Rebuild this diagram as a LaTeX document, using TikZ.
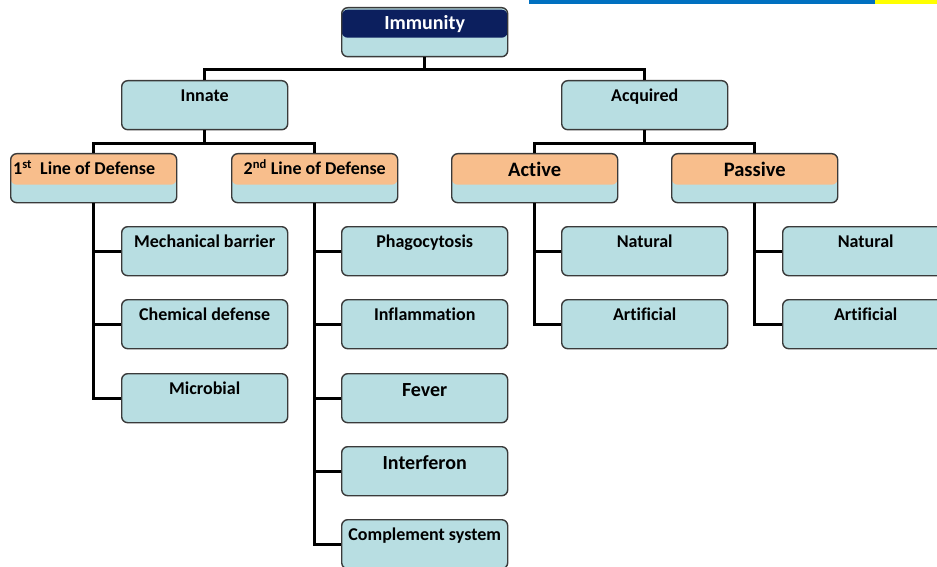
\documentclass[tikz,border=0pt]{standalone}
\usepackage{fontspec}
\setmainfont{Carlito}[Ligatures=NoCommon]
\definecolor{boxfill}{HTML}{B8DEE2}
\definecolor{bandor}{HTML}{F8BE8C}
\definecolor{navy}{HTML}{0C1F5E}
\definecolor{bord}{HTML}{3A3A3A}
\definecolor{topblue}{HTML}{0070C0}
\definecolor{topyellow}{HTML}{FFFF00}
\tikzset{
  box/.style={draw=bord, line width=1.4pt, fill=boxfill, rounded corners=6pt,
    minimum width=166pt, minimum height=49pt, inner sep=0pt, anchor=north west},
  orband/.style={path picture={\fill[bandor] (path picture bounding box.north west) rectangle ([yshift=-31pt]path picture bounding box.north east);}},
  navband/.style={path picture={\fill[navy] ([yshift=-2pt]path picture bounding box.north west) rectangle ([yshift=-30pt]path picture bounding box.north east);}},
  txt/.style={anchor=base, font=\fontsize{18}{21}\selectfont\bfseries, text=black, inner sep=0pt},
  bigtxt/.style={txt, font=\fontsize{20}{23}\selectfont\bfseries},
  midtxt/.style={txt, font=\fontsize{20.5}{23}\selectfont\bfseries},
  conn/.style={line width=3.2pt, black},
}
\begin{document}
\begin{tikzpicture}[x=1pt,y=-1pt]
\useasboundingbox (0,0) rectangle (937,567);
\clip (0,0) rectangle (937,567);
\fill[topblue] (529,0) rectangle (875,4);
\fill[topyellow] (875,0) rectangle (937,4);

% boxes
\node[box, navband] (imm) at (341,7) {};
\node[box] (inn) at (121,80) {};
\node[box] (acq) at (561,80) {};
\node[box, orband] (l1) at (10,153) {};
\node[box, orband] (l2) at (231,153) {};
\node[box, orband] (act) at (451,153) {};
\node[box, orband] (pas) at (671,153) {};
\node[box] (mb) at (121,226) {};
\node[box] (cd) at (121,299) {};
\node[box] (mi) at (121,373) {};
\node[box] (ph) at (341,226) {};
\node[box] (inf) at (341,299) {};
\node[box] (fev) at (341,373) {};
\node[box] (itf) at (341,446) {};
\node[box] (cs) at (341,519) {};
\node[box] (an) at (561,226) {};
\node[box] (aa) at (561,299) {};
\node[box] (pn) at (782,226) {};
\node[box] (pa) at (782,299) {};

% texts
\node[bigtxt, text=white] (timm) at ([yshift=-23pt]imm.north) {Immunity};
\node[txt] (tinn) at ([yshift=-21.5pt]inn.north) {Innate};
\node[txt] (tacq) at ([yshift=-21.5pt]acq.north) {Acquired};
\node[txt, anchor=base west] (tl1) at ([xshift=3pt,yshift=-21.5pt]l1.north west) {1\textsuperscript{st}\ \ Line of Defense};
\node[txt] (tl2) at ([yshift=-21.5pt]l2.north) {2\textsuperscript{nd} Line of Defense};
\node[midtxt] (tact) at ([yshift=-23pt]act.north) {Active};
\node[midtxt] (tpas) at ([yshift=-23pt]pas.north) {Passive};
\node[txt] (tmb) at ([yshift=-21.5pt]mb.north) {Mechanical barrier};
\node[txt] (tcd) at ([yshift=-21.5pt]cd.north) {Chemical defense};
\node[txt] (tmi) at ([yshift=-21.5pt]mi.north) {Microbial};
\node[txt] (tph) at ([yshift=-21.5pt]ph.north) {Phagocytosis};
\node[txt] (tinf) at ([yshift=-21.5pt]inf.north) {Inflammation};
\node[bigtxt] (tfev) at ([yshift=-23pt]fev.north) {Fever};
\node[bigtxt] (titf) at ([yshift=-23pt]itf.north) {Interferon};
\node[txt] (tcs) at ([yshift=-21.5pt]cs.north) {Complement system};
\node[txt] (tan) at ([yshift=-21.5pt]an.north) {Natural};
\node[txt] (taa) at ([yshift=-21.5pt]aa.north) {Artificial};
\node[txt] (tpn) at ([yshift=-21.5pt]pn.north) {Natural};
\node[txt] (tpa) at ([yshift=-21.5pt]pa.north) {Artificial};

% connectors
\draw[conn] (imm.south) -- ++(0,12) -| (inn.north);
\draw[conn] (imm.south) -- ++(0,12) -| (acq.north);
\draw[conn] (inn.south) -- ++(0,13) -| (l1.north);
\draw[conn] (inn.south) -- ++(0,13) -| (l2.north);
\draw[conn] (acq.south) -- ++(0,13) -| (act.north);
\draw[conn] (acq.south) -- ++(0,13) -| (pas.north);
\foreach \c in {mb,cd,mi} \draw[conn] (l1.south) |- (\c.west);
\foreach \c in {ph,inf,fev,itf,cs} \draw[conn] (l2.south) |- (\c.west);
\foreach \c in {an,aa} \draw[conn] (act.south) |- (\c.west);
\foreach \c in {pn,pa} \draw[conn] (pas.south) |- (\c.west);
\end{tikzpicture}
\end{document}
